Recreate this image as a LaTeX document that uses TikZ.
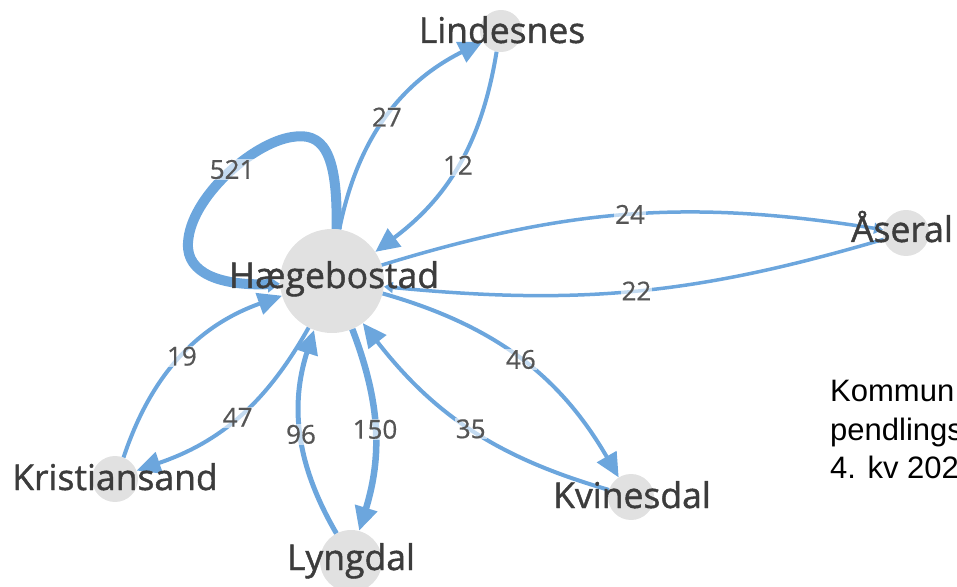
\documentclass[tikz,border=0pt]{standalone}
\usepackage{fontspec}
\usetikzlibrary{arrows.meta}
\newfontfamily\osans[BoldFont={Open Sans}, BoldFeatures={FakeBold=1.2}]{Open Sans}
\newfontfamily\osanl[BoldFont={Open Sans}, BoldFeatures={FakeBold=0.6}]{Open Sans}
\newfontfamily\lsans{Liberation Sans}
\definecolor{edgeblue}{RGB}{108,166,221}
\definecolor{nodegray}{RGB}{225,225,225}
\definecolor{namecol}{RGB}{60,60,60}
\definecolor{lblcol}{RGB}{85,85,85}
\tikzset{
  city/.style={circle, fill=nodegray, draw=none, inner sep=0pt},
  cname/.style={font=\osans\bfseries\fontsize{35.5}{40}\selectfont, text=namecol, inner sep=0pt, anchor=base},
  flow/.style={draw=edgeblue, line width=4pt, -{Triangle[length=24pt,width=22pt]}},
  thinflow/.style={draw=edgeblue, line width=3.5pt, -{Triangle[length=9pt,width=11pt]}},
  lbl/.style={font=\osanl\bfseries\fontsize{26}{30}\selectfont, text=lblcol, fill=white, fill opacity=0.6, text opacity=1, inner sep=1pt},
  note/.style={font=\lsans\fontsize{31}{35}\selectfont, text=black, inner sep=0pt, anchor=base west}
}
\begin{document}
\begin{tikzpicture}[x=1pt,y=1pt]
\useasboundingbox (0,0) rectangle (957,586);
\clip (0,0) rectangle (957,586);
% circles
\node[city, minimum size=104pt] (H) at (332,305) {};
\node[city, minimum size=42pt] (Li) at (501,555) {};
\node[city, minimum size=46pt] (Aa) at (906,353) {};
\node[city, minimum size=46pt] (Kr) at (115,107) {};
\node[city, minimum size=62pt] (Ly) at (351,25) {};
\node[city, minimum size=46pt] (Kv) at (631,89) {};
% self loop
\draw[draw=edgeblue, line width=10pt, -{Triangle[length=12pt,width=16pt]}]
  (H.85) .. controls (338,436) and (322,454) .. (292,449)
  .. controls (252,443) and (190,388) .. node[lbl, pos=0.45] (l521) {521} (188,343)
  .. controls (186,312) and (222,300) .. (H.183);
% edges
\draw[flow] (H) to[bend left=26] node[lbl] (l27) {27} (Li);
\draw[flow] (Li) to[bend left=22] node[lbl] (l12) {12} (H);
\draw[thinflow] (H) to[bend left=13] node[lbl] (l24) {24} (Aa);
\draw[thinflow] (Aa) to[bend left=11] node[lbl] (l22) {22} (H);
\draw[flow] (H) to[bend left=22] node[lbl] (l46) {46} (Kv);
\draw[flow] (Kv) to[bend left=18] node[lbl] (l35) {35} (H);
\draw[flow, line width=6.5pt] (H) to[bend left=19] node[lbl] (l150) {150} (Ly);
\draw[flow, line width=5pt] (Ly) to[bend left=24] node[lbl] (l96) {96} (H);
\draw[flow] (Kr) to[bend left=26] node[lbl] (l19) {19} (H);
\draw[flow] (H) to[bend left=21] node[lbl] (l47) {47} (Kr);
% names
\node[cname] (nH) at (334,298) {Hægebostad};
\node[cname] (nLi) at (502,543) {Lindesnes};
\node[cname] (nAa) at (902,344) {Åseral};
\node[cname] (nKr) at (115,96) {Kristiansand};
\node[cname] (nLy) at (351,16) {Lyngdal};
\node[cname] (nKv) at (632,78) {Kvinesdal};
% note
\node[note] (t1) at (830,184) {Kommun};
\node[note] (t2) at (830,145) {pendlings};
\node[note] (t3) at (830,108) {4. kv 202};
\end{tikzpicture}
\end{document}
